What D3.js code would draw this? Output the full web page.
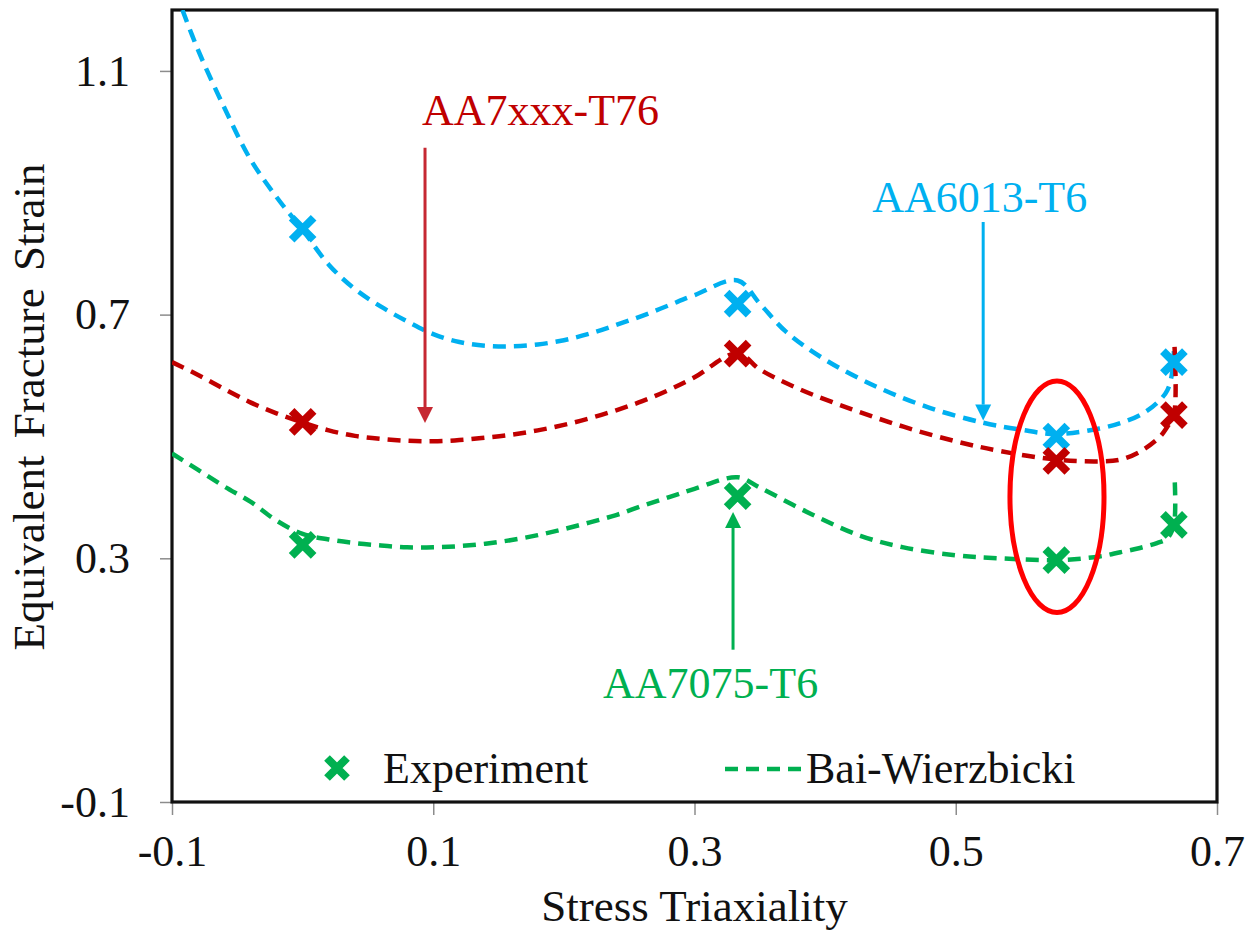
<!DOCTYPE html>
<html>
<head>
<meta charset="utf-8">
<script src="https://cdn.jsdelivr.net/npm/d3@7/dist/d3.min.js"></script>
<style>
  html, body { margin: 0; padding: 0; background: #ffffff; }
  svg { display: block; font-family: "Liberation Serif", "Times New Roman", serif; }
</style>
</head>
<body>
<svg id="chart" width="1256" height="936"></svg>
<script>
// ---- Experimental fracture strains (stress triaxiality vs. equivalent strain) ----
const triaxExp = [0, 0.333, 0.577, 0.667];
const expAA6013 = [0.841, 0.718, 0.500, 0.622];
const expAA7xxx = [0.524, 0.636, 0.460, 0.535];
const expAA7075 = [0.322, 0.402, 0.297, 0.355];

// ---- Bai-Wierzbicki fracture loci, sampled along the triaxiality axis ----
const bwTriaxAA6013 = [-0.092, -0.08, -0.06, -0.04, -0.02, 0, 0.02, 0.04, 0.06, 0.08, 0.10,
  0.12, 0.14, 0.16, 0.18, 0.20, 0.22, 0.24, 0.26, 0.28, 0.30, 0.333, 0.35, 0.37, 0.40, 0.44,
  0.48, 0.52, 0.55, 0.577, 0.61, 0.626, 0.641, 0.654, 0.662, 0.666, 0.667];
const bwAA6013 = [1.20, 1.134, 1.040, 0.955, 0.893, 0.839, 0.782, 0.742, 0.713, 0.689, 0.668,
  0.655, 0.649, 0.648, 0.651, 0.658, 0.669, 0.683, 0.698, 0.715, 0.732, 0.756, 0.718, 0.672, 0.626, 0.581,
  0.547, 0.523, 0.511, 0.504, 0.513, 0.522, 0.535, 0.555, 0.576, 0.609, 0.640];

const bwTriaxAA7xxx = [-0.10, -0.08, -0.06, -0.04, -0.02, 0, 0.02, 0.04, 0.06, 0.08, 0.10,
  0.12, 0.14, 0.16, 0.18, 0.20, 0.22, 0.24, 0.26, 0.28, 0.30, 0.333, 0.35, 0.38, 0.42, 0.46,
  0.50, 0.534, 0.577, 0.61, 0.626, 0.641, 0.656, 0.662, 0.667, 0.6675];
const bwAA7xxx = [0.622, 0.601, 0.578, 0.556, 0.538, 0.523, 0.510, 0.501, 0.496, 0.493, 0.492,
  0.494, 0.498, 0.503, 0.510, 0.519, 0.530, 0.543, 0.558, 0.576, 0.597, 0.637, 0.610, 0.578, 0.545, 0.516,
  0.492, 0.476, 0.462, 0.459, 0.462, 0.475, 0.499, 0.516, 0.535, 0.647];

const bwTriaxAA7075 = [-0.10, -0.08, -0.06, -0.04, -0.02, 0, 0.02, 0.04, 0.06, 0.08, 0.10,
  0.12, 0.14, 0.16, 0.18, 0.20, 0.22, 0.24, 0.26, 0.28, 0.30, 0.333, 0.35, 0.39, 0.427, 0.46,
  0.50, 0.534, 0.577, 0.61, 0.626, 0.641, 0.654, 0.662, 0.667, 0.6675];
const bwAA7075 = [0.472, 0.445, 0.418, 0.393, 0.362, 0.340, 0.331, 0.325, 0.321, 0.318, 0.318,
  0.320, 0.324, 0.330, 0.338, 0.348, 0.359, 0.371, 0.386, 0.400, 0.414, 0.433, 0.416, 0.372, 0.337, 0.318,
  0.305, 0.300, 0.297, 0.303, 0.310, 0.317, 0.325, 0.333, 0.355, 0.434];

// ---- Axes ----
const xTicks = [-0.1, 0.1, 0.3, 0.5, 0.7];
const yTicks = [-0.1, 0.3, 0.7, 1.1];
const xTitle = "Stress Triaxiality";
const yTitle = "Equivalent Fracture Strain";

// ---- Alloys ----
const alloyNames = ["AA6013-T6", "AA7xxx-T76", "AA7075-T6"];
const legendLabels = ["Experiment", "Bai-Wierzbicki"];

// ---- Drawing ----
const colors = { "AA6013-T6": "#00b0f0", "AA7xxx-T76": "#c00000", "AA7075-T6": "#00b050" };

const series = [
  { name: alloyNames[0], tri: bwTriaxAA6013, eps: bwAA6013, exp: expAA6013 },
  { name: alloyNames[1], tri: bwTriaxAA7xxx, eps: bwAA7xxx, exp: expAA7xxx },
  { name: alloyNames[2], tri: bwTriaxAA7075, eps: bwAA7075, exp: expAA7075 }
];

const plot = { left: 172, right: 1217, top: 10, bottom: 802 };
const x = d3.scaleLinear().domain([-0.1, 0.7]).range([plot.left, plot.right]);
const y = d3.scaleLinear().domain([-0.1, 1.2]).range([plot.bottom, plot.top]);

const svg = d3.select("#chart");
const fmt = d => d.toFixed(1);

svg.append("defs").append("clipPath").attr("id", "plot-clip")
  .append("rect")
  .attr("x", plot.left).attr("y", plot.top)
  .attr("width", plot.right - plot.left).attr("height", plot.bottom - plot.top);

// y axis ticks and labels
const yAxis = svg.append("g")
  .attr("transform", `translate(${plot.left},0)`)
  .call(d3.axisLeft(y).tickValues(yTicks).tickFormat(fmt).tickSize(12).tickPadding(30));
yAxis.select(".domain").remove();
yAxis.selectAll(".tick line").attr("stroke", "#8c8c8c").attr("stroke-width", 1.5);
yAxis.selectAll(".tick text")
  .attr("fill", "#111").style("font-size", "44px")
  .style("font-family", "'Liberation Serif', 'Times New Roman', serif");

// x axis ticks and labels
const xAxis = svg.append("g")
  .attr("transform", `translate(0,${plot.bottom})`)
  .call(d3.axisBottom(x).tickValues(xTicks).tickFormat(fmt).tickSize(13).tickPadding(20));
xAxis.select(".domain").remove();
xAxis.selectAll(".tick line").attr("stroke", "#8c8c8c").attr("stroke-width", 1.5);
xAxis.selectAll(".tick text")
  .attr("fill", "#111").style("font-size", "44px")
  .style("font-family", "'Liberation Serif', 'Times New Roman', serif");

// plot frame
svg.append("rect")
  .attr("x", plot.left).attr("y", plot.top)
  .attr("width", plot.right - plot.left).attr("height", plot.bottom - plot.top)
  .attr("fill", "none").attr("stroke", "#111").attr("stroke-width", 3.2);

// axis titles
svg.append("text")
  .attr("x", (plot.left + plot.right) / 2).attr("y", 921)
  .attr("text-anchor", "middle").attr("fill", "#111")
  .style("font-size", "45px").text(xTitle);
svg.append("text")
  .attr("transform", `translate(44,${407}) rotate(-90)`)
  .attr("text-anchor", "middle").attr("fill", "#111")
  .style("font-size", "45px").style("word-spacing", "6px").text(yTitle);

// model curves
const line = d3.line()
  .x(d => x(d[0])).y(d => y(d[1]))
  .curve(d3.curveCatmullRom.alpha(0.5));

const curves = svg.append("g").attr("clip-path", "url(#plot-clip)");
series.forEach(s => {
  const pts = s.tri.map((t, i) => [t, s.eps[i]]);
  curves.append("path")
    .attr("d", line(pts))
    .attr("fill", "none")
    .attr("stroke", colors[s.name])
    .attr("stroke-width", 4.5)
    .attr("stroke-dasharray", "13,8");
});

// experiment markers
const xMark = r => `M${-r},${-r}L${r},${r}M${-r},${r}L${r},${-r}`;
series.forEach(s => {
  svg.append("g").selectAll("path")
    .data(triaxExp.map((t, i) => [t, s.exp[i]]))
    .join("path")
    .attr("transform", d => `translate(${x(d[0])},${y(d[1])})`)
    .attr("d", xMark(11))
    .attr("fill", "none")
    .attr("stroke", colors[s.name])
    .attr("stroke-width", 8);
});

// highlighted experiments at triaxiality 0.577
const ell = { cx: 0.5775, cy: 0.401, rx: 0.036, ry: 0.19 };
svg.append("ellipse")
  .attr("cx", x(ell.cx)).attr("cy", y(ell.cy))
  .attr("rx", x(ell.cx + ell.rx) - x(ell.cx))
  .attr("ry", y(ell.cy - ell.ry) - y(ell.cy))
  .attr("fill", "none").attr("stroke", "#ff0000").attr("stroke-width", 5);

// alloy labels with arrows pointing at their curves
const notes = [
  { name: alloyNames[1], color: "#c00000", arrowColor: "#c62832",
    tx: 0.0914, ty: 1.011, ax: 0.0937, from: 0.974, to: 0.522 },
  { name: alloyNames[0], color: "#00b0f0", arrowColor: "#00b0f0",
    tx: 0.436, ty: 0.869, ax: 0.521, from: 0.852, to: 0.526 },
  { name: alloyNames[2], color: "#00b050", arrowColor: "#00b050",
    tx: 0.230, ty: 0.071, ax: 0.3295, from: 0.150, to: 0.376 }
];
notes.forEach(n => {
  svg.append("text")
    .attr("x", x(n.tx)).attr("y", y(n.ty))
    .attr("fill", n.color).style("font-size", "44px").text(n.name);
  const ax = x(n.ax), y0 = y(n.from), y1 = y(n.to);
  const dir = Math.sign(y1 - y0), head = 16, half = 8;
  svg.append("line")
    .attr("x1", ax).attr("x2", ax)
    .attr("y1", y0).attr("y2", y1 - dir * head)
    .attr("stroke", n.arrowColor).attr("stroke-width", 3);
  svg.append("path")
    .attr("d", `M${ax},${y1}L${ax - half},${y1 - dir * head}L${ax + half},${y1 - dir * head}Z`)
    .attr("fill", n.arrowColor);
});

// legend
const legendColor = colors[alloyNames[2]];
const lg = svg.append("g");
lg.append("path")
  .attr("transform", "translate(337,768)")
  .attr("d", xMark(10))
  .attr("fill", "none").attr("stroke", legendColor).attr("stroke-width", 8);
lg.append("text").attr("x", 383).attr("y", 783)
  .attr("fill", "#111").style("font-size", "44px").text(legendLabels[0]);
lg.append("line")
  .attr("x1", 725).attr("x2", 803).attr("y1", 769).attr("y2", 769)
  .attr("stroke", legendColor).attr("stroke-width", 4.5).attr("stroke-dasharray", "13,8");
lg.append("text").attr("x", 806).attr("y", 783)
  .attr("fill", "#111").style("font-size", "44px").text(legendLabels[1]);
</script>
</body>
</html>
